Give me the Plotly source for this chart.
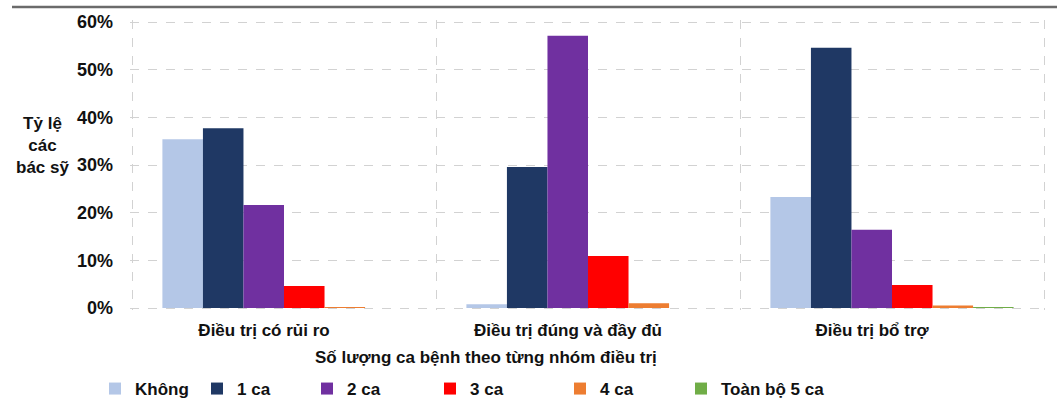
import plotly.graph_objects as go

# Treatment groups (x categories)
groups = ["Điều trị có rủi ro", "Điều trị đúng và đầy đủ", "Điều trị bổ trợ"]

# Share of doctors by number of cases handled, per treatment group (%)
khong = [35.4, 0.8, 23.3]
mot_ca = [37.7, 29.6, 54.6]
hai_ca = [21.6, 57.1, 16.4]
ba_ca = [4.6, 10.9, 4.8]
bon_ca = [0.2, 1.0, 0.5]
nam_ca = [0.0, 0.0, 0.2]

series_names = ["Không", "1 ca", "2 ca", "3 ca", "4 ca", "Toàn bộ 5 ca"]
series_values = [khong, mot_ca, hai_ca, ba_ca, bon_ca, nam_ca]
series_colors = ["#b4c7e7", "#1f3864", "#7030a0", "#ff0000", "#ed7d31", "#70ad47"]

y_ticks = [0, 10, 20, 30, 40, 50, 60]
y_ticktext = [f"{v}%" for v in y_ticks]

FONT = "Liberation Sans, Arial, sans-serif"
W, H = 1057, 404
# Frame of the value area (0%..60%, first..last group boundary), in pixels
X0, X1 = 132, 1044
Y_TOP, Y_BOT = 22, 308
PAD = 2  # keep edge gridlines just inside the plot so they are drawn

L, R = X0 - PAD, W - X1 - PAD
T, B = Y_TOP - PAD, H - Y_BOT - PAD
plot_w = W - L - R
plot_h = H - T - B

y_pad = 0.6 * PAD / (Y_BOT - Y_TOP)
x_pad = 3 * PAD / (X1 - X0)

def px_x(px):
    return (px - L) / plot_w

def px_y(py):
    return (H - B - py) / plot_h

fig = go.Figure()
legend_ids = ["legend2", "legend3", "legend4", "legend5", "legend6", "legend7"]
legend_text_x = [135, 237, 347, 470, 600, 721]

for name, vals, color, lid in zip(series_names, series_values, series_colors, legend_ids):
    fig.add_trace(go.Bar(
        name=name, x=groups, y=[v / 100 for v in vals],
        marker=dict(color=color, line=dict(width=0)),
        legend=lid, showlegend=True,
    ))

layout_legends = {}
for lid, tx in zip(legend_ids, legend_text_x):
    layout_legends[lid] = dict(
        orientation="h", x=px_x(tx - 40), y=px_y(389),
        xanchor="left", yanchor="middle",
        font=dict(family=FONT, size=17, color="#111111", weight="bold"),
        bgcolor="rgba(0,0,0,0)", itemwidth=30, tracegroupgap=0,
    )

fig.update_layout(
    width=W, height=H,
    margin=dict(l=L, r=R, t=T, b=B, autoexpand=False),
    paper_bgcolor="white", plot_bgcolor="white",
    barmode="group", bargap=0.2, bargroupgap=0,
    font=dict(family=FONT, color="#111111"),
    showlegend=True,
    **layout_legends,
)

fig.update_xaxes(
    type="category", tickson="boundaries", range=[-0.5 - x_pad, 2.5 + x_pad],
    showgrid=True, gridcolor="#d2d2d2", griddash="dash", gridwidth=1.2,
    showline=False, zeroline=False, ticks="",
    tickfont=dict(family=FONT, size=17, color="#111111", weight="bold"),
    ticklabelshift=-20, ticklabelstandoff=8,
)
fig.update_yaxes(
    range=[-y_pad, 0.6 + y_pad], tickvals=[v / 100 for v in y_ticks], ticktext=y_ticktext,
    showgrid=True, gridcolor="#d2d2d2", griddash="dash", gridwidth=1.2,
    zeroline=False, showline=False, ticks="",
    tickfont=dict(family=FONT, size=18, color="#111111", weight="bold"),
    ticklabelstandoff=16,
)

# Axis titles
fig.add_annotation(
    text="Tỷ lệ<br>các<br>bác sỹ", xref="paper", yref="paper",
    x=px_x(42), y=px_y(145), xanchor="center", yanchor="middle",
    showarrow=False, align="center",
    font=dict(family=FONT, size=17, color="#111111", weight="bold"),
)
fig.add_annotation(
    text="Số lượng ca bệnh theo từng nhóm điều trị", xref="paper", yref="paper",
    x=px_x(486), y=px_y(358), xanchor="center", yanchor="middle",
    showarrow=False,
    font=dict(family=FONT, size=17, color="#111111", weight="bold"),
)

# Header rule across the top
fig.add_shape(
    type="line", xref="paper", yref="paper",
    x0=px_x(12), x1=px_x(W), y0=px_y(7), y1=px_y(7),
    line=dict(color="#6b6b6b", width=2.5),
)

fig.write_html("out.html")
